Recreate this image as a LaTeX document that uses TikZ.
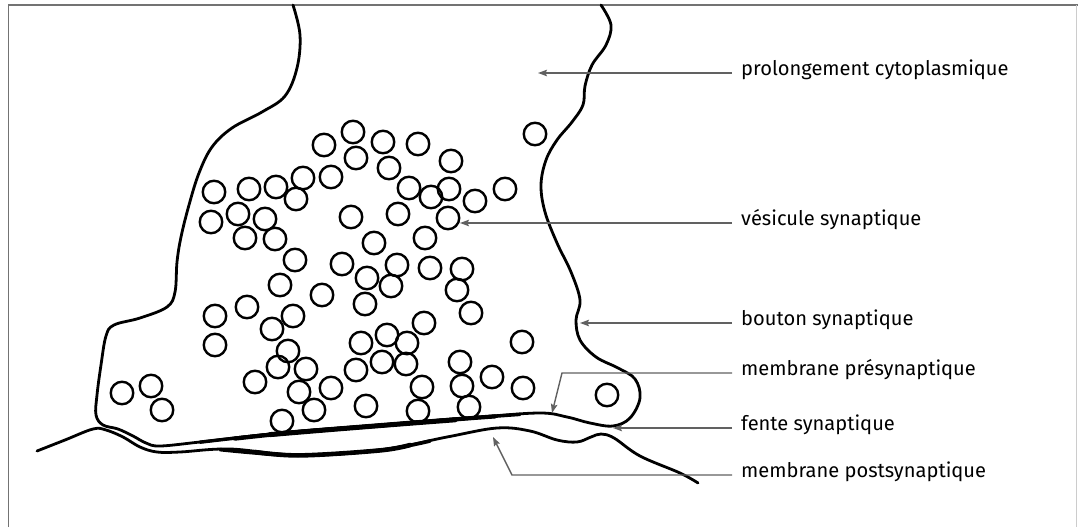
\documentclass[tikz,border=0pt]{standalone}
\usepackage{fontspec}
\setmainfont{Fira Sans}
\usetikzlibrary{arrows.meta}
\begin{document}
\begin{tikzpicture}[x=1pt,y=-1pt,
  outline/.style={line width=2.8pt,line cap=round,line join=round,black},
  vesicle/.style={draw=black,line width=2.4pt,circle,minimum size=22.5pt,inner sep=0pt},
  leader/.style={draw=black!62,line width=1.4pt,-{Stealth[length=9pt,width=6.5pt,inset=1.5pt]}},
  lbl/.style={anchor=mid west,inner xsep=9pt,inner ysep=0pt,font=\fontsize{20.1}{22}\selectfont,text=black},
  frame/.style={draw=black!55,line width=1.5pt}]
\useasboundingbox (0,0) rectangle (1078,527);

% frame
\draw[frame] (8.5,527) -- (8.5,5) -- (1078,5);
\draw[draw=black!20,line width=1pt] (1076,5) -- (1076,527);

% presynaptic terminal outline
\draw[outline] plot[smooth,tension=0.6] coordinates {
  (293,5) (300,35) (297,68) (285,96) (262,112) (232,128) (212,147) (199,173)
  (189,205) (181,237) (177,262) (175,292) (167,307) (140,318) (114,325)
  (106,336) (101,365) (97,395) (96,415) (103,425) (118,429) (133,436)
  (146,443) (160,446) (200,442) (280,433) (380,425) (480,417) (540,413)
  (567,417) (590,423) (613,426) (630,418) (640,398) (635,379) (618,368)
  (596,357) (580,340) (576,320) (580,300) (571,272) (557,243) (545,212)
  (541,185) (546,160) (557,140) (572,122) (583,105) (585,86) (592,65)
  (606,45) (611,25) (601,5)};
% thickened presynaptic membrane, tapering at both ends
\draw[line width=3.4pt,line cap=round] plot[smooth,tension=0.6] coordinates {
  (200,442.2) (280,433.4) (380,425.4) (480,417.4) (520,414.4)};
\draw[line width=4.2pt,line cap=round] plot[smooth,tension=0.6] coordinates {
  (235,438.6) (300,431.8) (380,425.6) (460,419) (495,416.4)};
\draw[line width=5pt,line cap=round] plot[smooth,tension=0.6] coordinates {
  (270,434.6) (330,429.6) (400,424) (455,419.8)};

% postsynaptic membrane
\draw[outline] plot[smooth,tension=0.6] coordinates {
  (37,451) (65,440) (93,429) (106,430) (123,437) (140,447) (157,452)
  (180,452) (230,449) (297,455) (380,450) (447,437) (497,428) (530,431)
  (557,440) (577,442) (591,437) (601,434) (614,438) (640,456) (680,473) (698,483)};
\draw[line width=3.6pt,line cap=round] plot[smooth,tension=0.6] coordinates {
  (220,449.6) (297,455.2) (380,450.2) (430,441)};
\draw[line width=4.6pt,line cap=round] plot[smooth,tension=0.6] coordinates {
  (255,452) (300,455.4) (380,450.4) (410,445)};

% synaptic vesicles
\foreach \n/\cx/\cy in {
  1/353/132, 2/324/145, 3/383/142, 4/418/144, 5/356/158, 6/451/161, 7/535/134,
  8/389/168, 9/331/177, 10/303/178, 11/214/192, 12/249/189, 13/276/187,
  14/296/199, 15/409/188, 16/431/197, 17/449/189, 18/475/201, 19/505/189,
  20/211/222, 21/238/214, 22/265/219, 23/351/217, 24/398/214, 25/448/218,
  26/245/238, 27/275/239, 28/374/243, 29/425/238,
  30/295/260, 31/342/264, 32/397/265, 33/430/268, 34/462/269, 35/367/278,
  36/391/286, 37/457/290, 38/280/285, 39/322/295, 40/365/304, 41/471/313,
  42/215/316, 43/247/307, 44/293/316, 45/272/329, 46/424/323, 47/387/335,
  48/407/343, 49/361/343, 50/215/345, 51/522/342, 52/288/351, 53/382/362,
  54/406/364, 55/356/370, 56/278/367, 57/306/369, 58/255/382, 59/460/362,
  60/492/377, 61/422/387, 62/462/386, 63/523/388, 64/331/388, 65/299/392,
  66/122/393, 67/151/386, 68/162/410, 69/314/410, 70/366/406, 71/418/411,
  72/469/407, 73/282/421, 74/607/395}
  \node[vesicle] (v\n) at (\cx,\cy) {};

% labels
\node[lbl] (lprol) at (732,73) {prolongement cytoplasmique};
\node[lbl] (lves)  at (732,223) {vésicule synaptique};
\node[lbl] (lbou)  at (732,323) {bouton synaptique};
\node[lbl] (lpre)  at (732,373) {membrane présynaptique};
\node[lbl] (lfen)  at (732,428) {fente synaptique};
\node[lbl] (lpost) at (732,475) {membrane postsynaptique};

% leader end points
\coordinate (tprol) at (538,73);
\coordinate (tves)  at (460,223);
\coordinate (tbou)  at (580,323);
\coordinate (cpre)  at (562,373);
\coordinate (tpre)  at (552,413);
\coordinate (tfen)  at (613,428);
\coordinate (cpost) at (512,475);
\coordinate (tpost) at (493,437);

\draw[leader] (lprol.mid west) -- (tprol);
\draw[leader] (lves.mid west) -- (tves);
\draw[leader] (lbou.mid west) -- (tbou);
\draw[leader] (lpre.mid west) -- (cpre) -- (tpre);
\draw[leader] (lfen.mid west) -- (tfen);
\draw[leader] (lpost.mid west) -- (cpost) -- (tpost);
\end{tikzpicture}
\end{document}
